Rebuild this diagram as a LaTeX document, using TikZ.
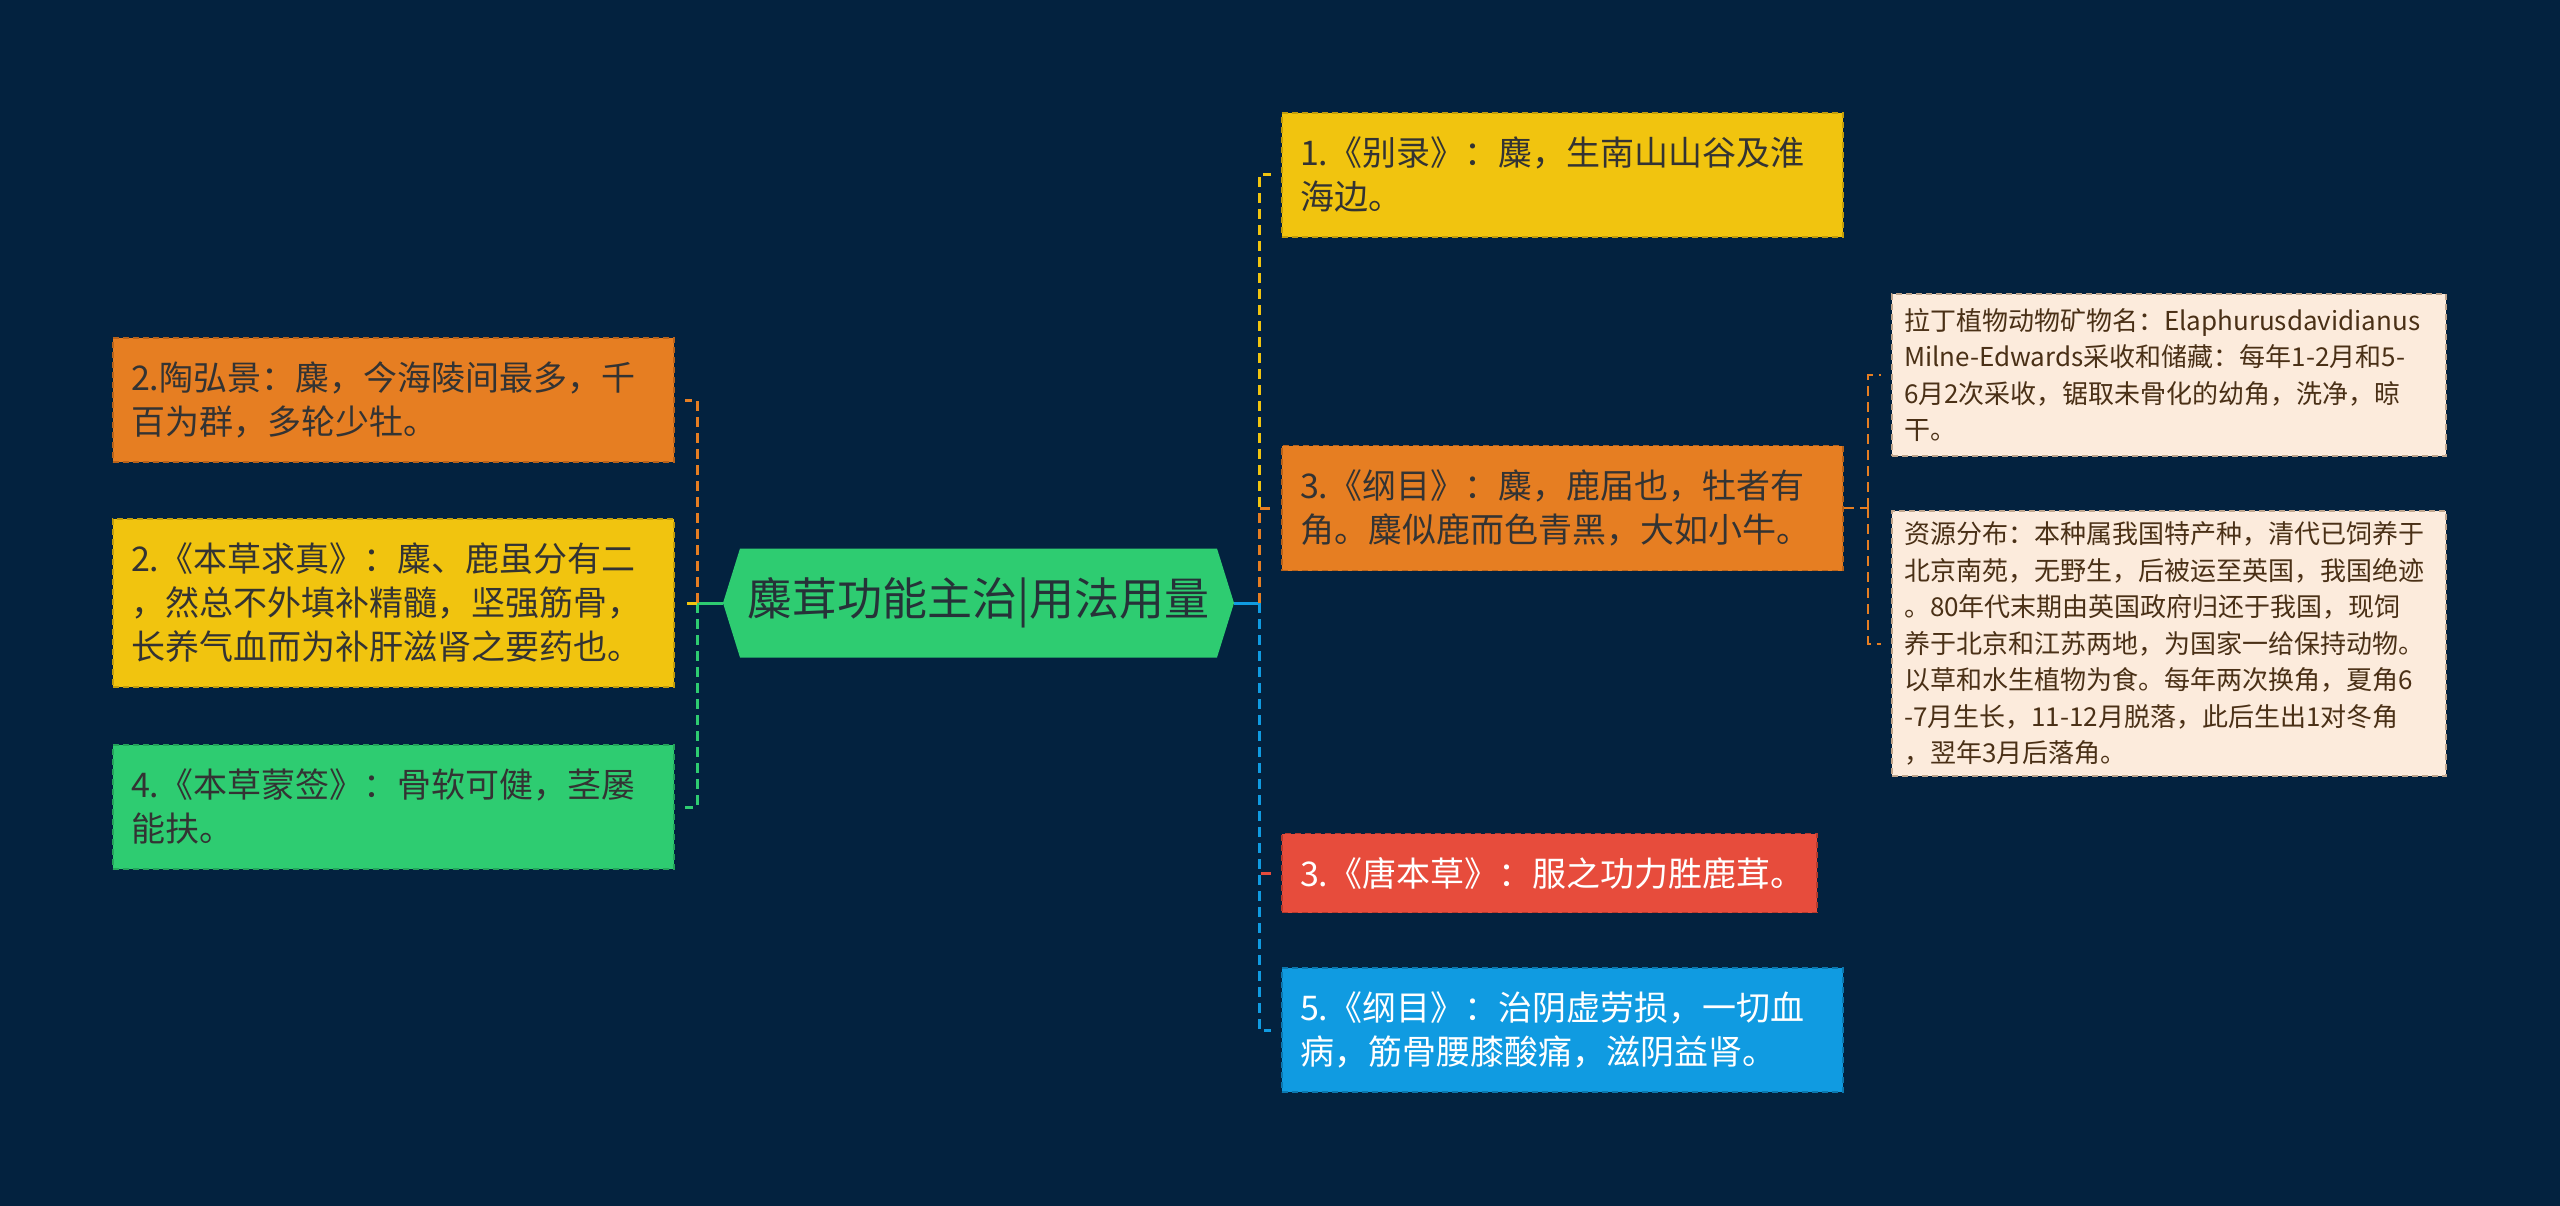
\documentclass[tikz,border=0pt]{standalone}
\usepackage{fontspec}
\setmainfont{Noto Sans CJK SC}
\definecolor{bg}{HTML}{03223F}
\definecolor{corange}{HTML}{E67E22}
\definecolor{corangeD}{HTML}{B8621A}
\definecolor{cyellow}{HTML}{F1C40F}
\definecolor{cyellowD}{HTML}{C29D0A}
\definecolor{cgreen}{HTML}{2ECC71}
\definecolor{cgreenD}{HTML}{23A35A}
\definecolor{cred}{HTML}{E74C3C}
\definecolor{credD}{HTML}{B53A2D}
\definecolor{cblue}{HTML}{109BE1}
\definecolor{cblueD}{HTML}{0B78B0}
\definecolor{cbeige}{HTML}{FCEBDC}
\definecolor{cbeigeD}{HTML}{BFA58C}
\definecolor{dtext}{HTML}{333333}
\definecolor{btext}{HTML}{4A3016}
\definecolor{ctext}{HTML}{263238}
\exhyphenpenalty=10000
\hyphenpenalty=10000
\tikzset{
  box/.style={rectangle, inner xsep=18pt, inner ysep=0pt, align=left,
    font=\fontsize{34}{44}\selectfont, line width=1.5pt,
    dash pattern=on 6pt off 4pt, text width=525pt},
  fbox/.style={rectangle, inner xsep=12pt, inner ysep=0pt, align=left,
    font=\fontsize{26}{36.5}\selectfont, line width=1.5pt,
    dash pattern=on 6pt off 4pt, text width=530pt,
    fill=cbeige, draw=cbeigeD, text=btext},
  conn/.style={line width=3pt, dash pattern=on 10pt off 6pt},
  mainline/.style={line width=3pt}
}
\begin{document}
\begin{tikzpicture}[x=1pt,y=-1pt]
\fill[bg] (0,0) rectangle (2560,1206);
\useasboundingbox (0,0) rectangle (2560,1206);

% center
\coordinate (cc) at (978.5,603);
\fill[cgreen, shift={(cc)}] (-238.5,-54.5) -- (238.5,-54.5) -- (255.5,0) -- (238.5,54.5) -- (-238.5,54.5) -- (-255.5,0) -- cycle;
\node[minimum width=511pt, minimum height=109pt, inner sep=0pt, text=ctext,
  font=\fontsize{45}{50}\selectfont] (c) at (cc) {麋茸功能主治|用法用量};

% left boxes
\node[box, fill=corange, draw=corangeD, text=dtext, minimum height=124pt] (L1) at (393.5,400)
  {2.陶弘景：麋，今海陵间最多，千\\百为群，多轮少牡。};
\node[box, fill=cyellow, draw=cyellowD, text=dtext, minimum height=168pt] (L2) at (393.5,603)
  {2.《本草求真》：麋、鹿虽分有二\\，然总不外填补精髓，坚强筋骨，\\长养气血而为补肝滋肾之要药也。};
\node[box, fill=cgreen, draw=cgreenD, text=dtext, minimum height=124pt] (L3) at (393.5,807)
  {4.《本草蒙签》：骨软可健，茎屡\\能扶。};

% right boxes
\node[box, fill=cyellow, draw=cyellowD, text=dtext, minimum height=124pt] (R1) at (1562.5,175)
  {1.《别录》：麋，生南山山谷及淮\\海边。};
\node[box, fill=corange, draw=corangeD, text=dtext, minimum height=125pt] (R2) at (1562.5,508)
  {3.《纲目》：麋，鹿届也，牡者有\\角。麋似鹿而色青黑，大如小牛。};
\node[box, fill=cred, draw=credD, text=white, minimum height=79pt, text width=499pt] (R3) at (1549.5,873)
  {3.《唐本草》：服之功力胜鹿茸。};
\node[box, fill=cblue, draw=cblueD, text=white, minimum height=124pt] (R4) at (1562.5,1030)
  {5.《纲目》：治阴虚劳损，一切血\\病，筋骨腰膝酸痛，滋阴益肾。};

% far right boxes
\node[fbox, minimum height=162pt] (F1) at (2169,375)
  {拉丁植物动物矿物名：Elaphurusdavidianus\\Milne-Edwards采收和储藏：每年1-2月和5-\\6月2次采收，锯取未骨化的幼角，洗净，晾\\干。};
\node[fbox, minimum height=265pt] (F2) at (2169,643.5)
  {资源分布：本种属我国特产种，清代已饲养于\\北京南苑，无野生，后被运至英国，我国绝迹\\。80年代末期由英国政府归还于我国，现饲\\养于北京和江苏两地，为国家一给保持动物。\\以草和水生植物为食。每年两次换角，夏角6\\-7月生长，11-12月脱落，此后生出1对冬角\\，翌年3月后落角。};

% left connectors
\coordinate (lb) at (697,603);
\draw[mainline, cgreen] (c.west) -- (lb);
\draw[conn, corange] (lb) |- ([xshift=10pt]L1.east);
\draw[conn, cgreen] (lb) |- ([xshift=10pt]L3.east);
\draw[conn, cyellow] (lb) -- ([xshift=10pt]L2.east);

% right connectors
\coordinate (rb) at (1259,603);
\draw[mainline, cblue] (c.east) -- (rb);
\draw[conn, cyellow] (rb) |- ([xshift=-10pt]R1.west);
\draw[conn, corange] (rb) |- ([xshift=-10pt]R2.west);
\draw[conn, cred] (rb) |- ([xshift=-10pt]R3.west);
\draw[conn, cblue] (rb) |- ([xshift=-10pt]R4.west);

% far right connectors
\coordinate (fb) at (1868,508);
\draw[conn, corange, line width=2pt] (R2.east) -- (fb);
\draw[conn, corange, line width=2pt] (fb) |- ([xshift=-10pt]F1.west);
\draw[conn, corange, line width=2pt] (fb) |- ([xshift=-10pt]F2.west);
\end{tikzpicture}
\end{document}
